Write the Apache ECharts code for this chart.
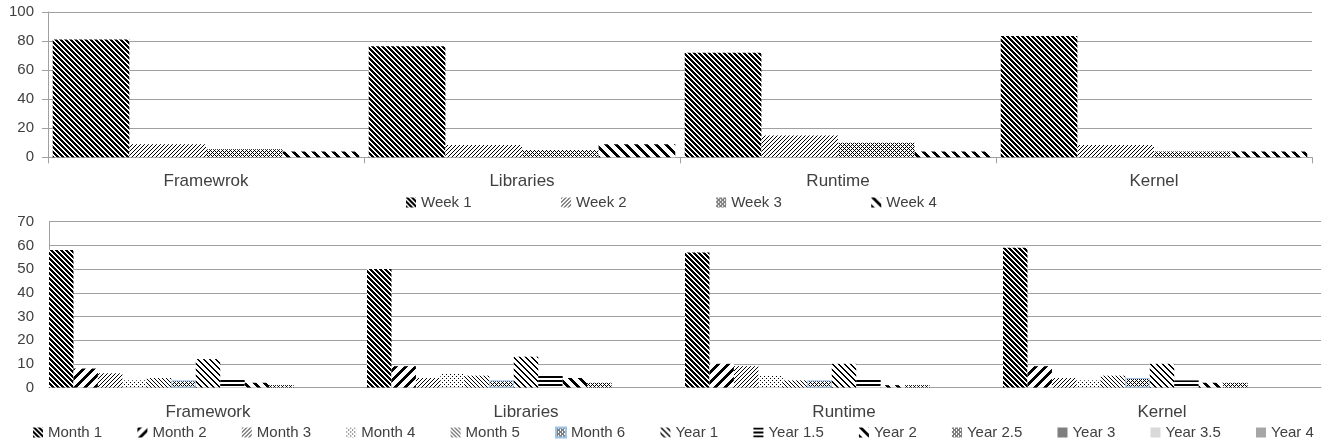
<!DOCTYPE html>
<html><head><meta charset="utf-8">
<script src="https://cdn.jsdelivr.net/npm/echarts@6/dist/echarts.min.js"></script>
<style>html,body{margin:0;padding:0;background:#fff}#c{width:1326px;height:444px}</style>
</head><body><div id="c"></div>
<script>
// ---------- data ----------
const topCategories = ['Framewrok', 'Libraries', 'Runtime', 'Kernel'];
const topSeriesNames = ['Week 1', 'Week 2', 'Week 3', 'Week 4'];
const week1 = [81, 76.5, 72, 83.5];
const week2 = [9, 8.5, 15, 8.5];
const week3 = [5.5, 5, 10, 4];
const week4 = [4, 9, 4, 4];
const topTicks = [0, 20, 40, 60, 80, 100];

const bottomCategories = ['Framework', 'Libraries', 'Runtime', 'Kernel'];
const bottomSeriesNames = ['Month 1', 'Month 2', 'Month 3', 'Month 4', 'Month 5', 'Month 6',
  'Year 1', 'Year 1.5', 'Year 2', 'Year 2.5', 'Year 3', 'Year 3.5', 'Year 4'];
const month1 = [58, 50, 57, 59];
const month2 = [8, 9, 10, 9];
const month3 = [6, 4, 9, 4];
const month4 = [3, 6, 5, 3];
const month5 = [4, 5, 3, 5];
const month6 = [3, 3, 3, 4];
const year1 = [12, 13, 10, 10];
const year1_5 = [4, 5, 4, 3];
const year2 = [2, 4, 1, 2];
const year2_5 = [1, 2, 1, 2];
const year3 = [0, 0, 0, 0];
const year3_5 = [0, 0, 0, 0];
const year4 = [0, 0, 0, 0];
const bottomTicks = [0, 10, 20, 30, 40, 50, 60, 70];

// ---------- patterns ----------
const mod = (a, n) => ((a % n) + n) % n;
function makePattern(size, fn, fg, bg) {
  const c = document.createElement('canvas');
  c.width = size; c.height = size;
  const ctx = c.getContext('2d');
  ctx.fillStyle = bg || '#ffffff'; ctx.fillRect(0, 0, size, size);
  ctx.fillStyle = fg || '#000000';
  for (let y = 0; y < size; y++) for (let x = 0; x < size; x++) if (fn(x, y)) ctx.fillRect(x, y, 1, 1);
  return { image: c, repeat: 'repeat' };
}
const P = {
  darkDown: makePattern(5, (x, y) => mod(x - y, 5) < 3),
  lightUp: makePattern(4, (x, y) => mod(x + y, 4) === 0),
  cross: makePattern(4, (x, y) => mod(x + y, 4) === 0 || mod(x - y, 4) === 0),
  wideDown: makePattern(10, (x, y) => mod(x - y, 10) < 4),
  wideUp: makePattern(10, (x, y) => mod(x + y, 10) < 4),
  dots: makePattern(4, (x, y) => (x === 0 && y === 0) || (x === 2 && y === 2)),
  lightDown: makePattern(4, (x, y) => mod(x - y, 4) === 0),
  medDown: makePattern(6, (x, y) => mod(x - y, 6) < 2),
  horiz: makePattern(4, (x, y) => y % 4 < 2)
};

const topData = [week1, week2, week3, week4];
const topStyles = [
  { color: P.darkDown }, { color: P.lightUp }, { color: P.cross }, { color: P.wideDown }
];
const bottomData = [month1, month2, month3, month4, month5, month6, year1, year1_5, year2, year2_5, year3, year3_5, year4];
const bottomStyles = [
  { color: P.darkDown }, { color: P.wideUp }, { color: P.lightUp }, { color: P.dots },
  { color: P.lightDown }, { color: P.cross, borderColor: '#9dc3e6', borderWidth: 1 },
  { color: P.medDown }, { color: P.horiz }, { color: P.wideDown }, { color: P.cross },
  { color: '#7f7f7f' }, { color: '#d9d9d9' }, { color: '#a6a6a6' }
];

const FONT = 'Liberation Sans';
const TXT = '#404040';
const GRID = '#a0a0a0';

const series = [];
topSeriesNames.forEach((n, i) => series.push({
  name: n, type: 'bar', xAxisIndex: 0, yAxisIndex: 0, data: topData[i],
  itemStyle: topStyles[i], barGap: '0%', barCategoryGap: '3%', silent: true
}));
bottomSeriesNames.forEach((n, i) => series.push({
  name: n, type: 'bar', xAxisIndex: 1, yAxisIndex: 1, data: bottomData[i],
  itemStyle: bottomStyles[i], barGap: '0%', barCategoryGap: '0%', silent: true
}));

const chart = echarts.init(document.getElementById('c'), null, { renderer: 'canvas' });
chart.setOption({
  animation: false,
  backgroundColor: '#ffffff',
  textStyle: { fontFamily: FONT },
  grid: [
    { left: 48, right: 14, top: 12, bottom: 286.7 },
    { left: 49, right: 5, top: 221.7, bottom: 56.5 }
  ],
  xAxis: [
    { type: 'category', gridIndex: 0, data: topCategories,
      axisLine: { lineStyle: { color: GRID, width: 1 } },
      axisTick: { show: true, length: 6, lineStyle: { color: GRID } },
      axisLabel: { fontSize: 17, color: TXT, margin: 16, fontFamily: FONT } },
    { type: 'category', gridIndex: 1, data: bottomCategories,
      axisLine: { lineStyle: { color: GRID, width: 1 } },
      axisTick: { show: false },
      axisLabel: { fontSize: 17, color: TXT, margin: 16, fontFamily: FONT } }
  ],
  yAxis: [
    { type: 'value', gridIndex: 0, min: topTicks[0], max: topTicks[topTicks.length - 1],
      interval: topTicks[1] - topTicks[0],
      axisLine: { show: true, lineStyle: { color: GRID } },
      axisTick: { show: true, length: 6, lineStyle: { color: GRID } },
      splitLine: { lineStyle: { color: GRID } },
      axisLabel: { fontSize: 15, color: TXT, margin: 14, fontFamily: FONT } },
    { type: 'value', gridIndex: 1, min: bottomTicks[0], max: bottomTicks[bottomTicks.length - 1],
      interval: bottomTicks[1] - bottomTicks[0],
      axisLine: { show: true, lineStyle: { color: GRID } },
      axisTick: { show: false },
      splitLine: { lineStyle: { color: GRID } },
      axisLabel: { fontSize: 15, color: TXT, margin: 15, fontFamily: FONT } }
  ],
  legend: [
    { data: topSeriesNames, left: 406, top: 195, padding: 0, itemGap: 89.5,
      itemWidth: 10, itemHeight: 10, icon: 'rect', selectedMode: false,
      textStyle: { fontSize: 15, color: TXT, fontFamily: FONT } },
    { data: bottomSeriesNames, left: 33, top: 425, padding: 0, itemGap: 35.2,
      itemWidth: 10, itemHeight: 10, icon: 'rect', selectedMode: false,
      textStyle: { fontSize: 15, color: TXT, fontFamily: FONT } }
  ],
  series: series
});
</script></body></html>
